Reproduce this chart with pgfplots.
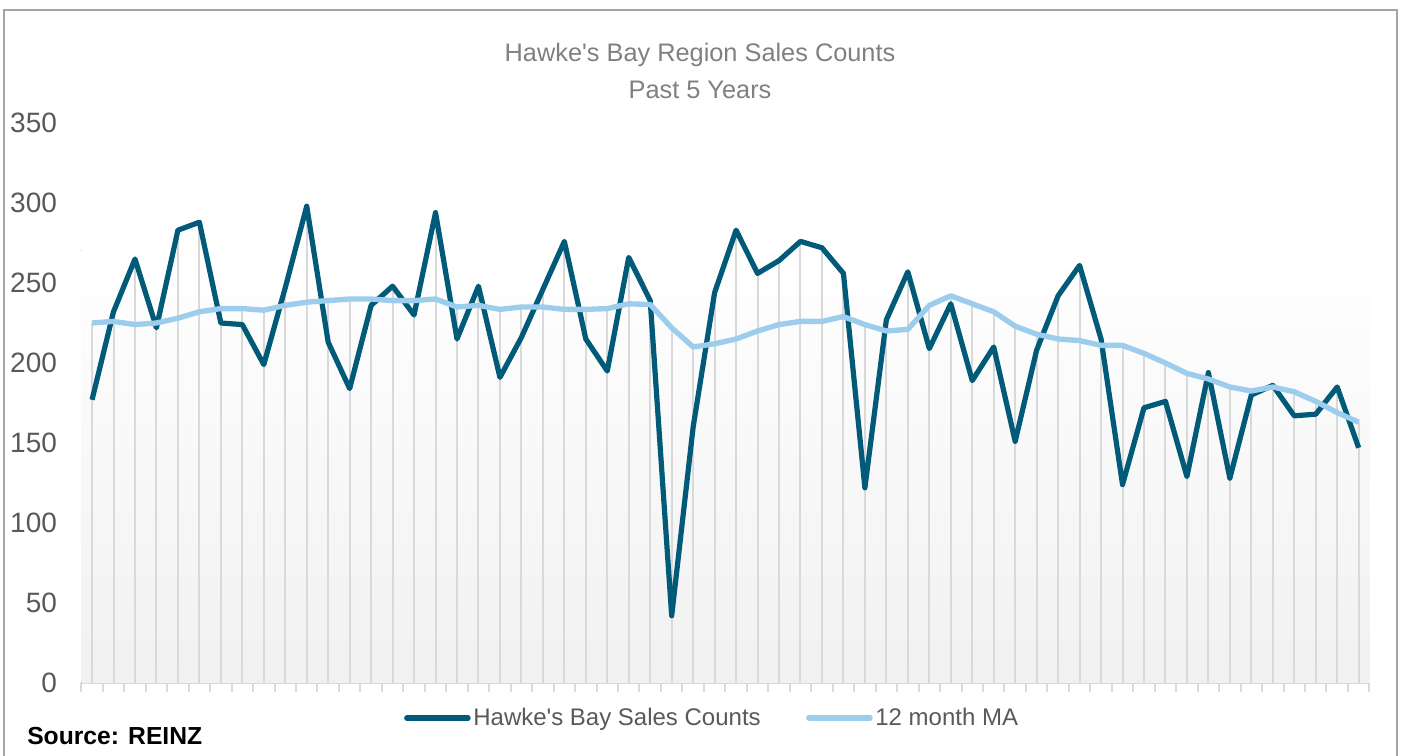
\documentclass[border=0pt]{standalone}
\usepackage{pgfplots}
\pgfplotsset{compat=1.18}
\usepackage{pgfplotstable}
\usepackage{graphicx}
\usepackage{fontspec}
\setmainfont{Liberation Sans}

\definecolor{dark}{RGB}{0,90,120}
\definecolor{ma}{RGB}{157,205,236}
\definecolor{gridc}{RGB}{217,217,217}
\definecolor{tickc}{RGB}{89,89,89}
\definecolor{titlec}{RGB}{128,128,128}
\definecolor{bgc}{RGB}{241,241,241}
\definecolor{borderc}{RGB}{165,165,165}

\pgfplotstableread{
i s m
0 177 225
1 232 226
2 265 224
3 222 225
4 283 228
5 288 232
6 225 234
7 224 234
8 199 233
9 247 236
10 298 238
11 213 239
12 184 240
13 236 240
14 248 239
15 230 239
16 294 240
17 215 235
18 248 236
19 191 233.5
20 216 235
21 246 235
22 276 233.5
23 215 233.5
24 195 234
25 266 237
26 239 236.5
27 42 222
28 160 210
29 244 212
30 283 215
31 256 220
32 264 224
33 276 226
34 272 226
35 256 229
36 122 224
37 227 220
38 257 221
39 209 236
40 237 242
41 189 237
42 210 232
43 151 223
44 208 218
45 242 215
46 261 214
47 215 211
48 124 211
49 172 206
50 176 200
51 129 193.5
52 194 190
53 128 185
54 180 182.5
55 186 185
56 167 182
57 168 176
58 185 169
59 147 163
}\data

\begin{document}
\begin{tikzpicture}
\useasboundingbox (0,0) rectangle (1052.25pt,567pt);
\draw[borderc, line width=1pt] (3pt,-5pt) -- (3pt,559.5pt) -- (1047.75pt,559.5pt) -- (1047.75pt,-5pt);
\node[titlec, font=\fontsize{19}{23}\selectfont] at (525pt,526pt) {Hawke\textquotesingle s Bay Region Sales Counts};
\node[titlec, font=\fontsize{19}{23}\selectfont] at (525pt,499.5pt) {Past 5 Years};
\node[anchor=west, inner sep=0pt] at (20.25pt,15pt) {\fontsize{18.5}{21}\selectfont\bfseries Source: REINZ};
\begin{axis}[
  at={(60.98pt,54.75pt)}, anchor=south west,
  scale only axis, width=966.07pt, height=420pt,
  xmin=-0.5, xmax=59.5, ymin=0, ymax=350,
  axis x line*=bottom, axis y line*=left,
  y axis line style={draw=none},
  x axis line style={gridc, line width=1.5pt},
  xtick={-0.5,0.5,...,59.5}, xticklabel=\empty,
  x tick style={gridc, line width=1.5pt},
  tick align=outside, major tick length=6.75pt,
  ytick={0,50,...,350}, y tick style={draw=none},
  y tick label style={font=\fontsize{21}{24}\selectfont, text=tickc, xshift=-8pt},
  /pgf/number format/assume math mode=true,
  legend style={draw=none, fill=none, at={(axis description cs:0.49,-0.0625)}, anchor=center,
    legend columns=2, /tikz/every even column/.append style={column sep=32pt},
    font=\fontsize{18}{21}\selectfont, text=tickc},
  legend image code/.code={\draw[#1, line cap=round] (0pt,0pt) -- (46pt,0pt);},
]
\fill[top color=white, bottom color=bgc, draw=none] (axis cs:-0.5,0) rectangle (axis cs:59.5,270.5);
\addplot[ycomb, gridc, line width=1.5pt, forget plot, mark=none] table[x=i,y=s]{\data};
\addplot[ycomb, gridc, line width=1.5pt, forget plot, mark=none] table[x=i,y=m]{\data};
\addplot[dark, line width=3.9pt, line join=round, mark=none] table[x=i,y=s]{\data};
\addlegendentry{Hawke\textquotesingle s Bay Sales Counts}
\addplot[ma, line width=4pt, line join=round, mark=none] table[x=i,y=m]{\data};
\addlegendentry{12 month MA}
\end{axis}
\end{tikzpicture}
\end{document}
